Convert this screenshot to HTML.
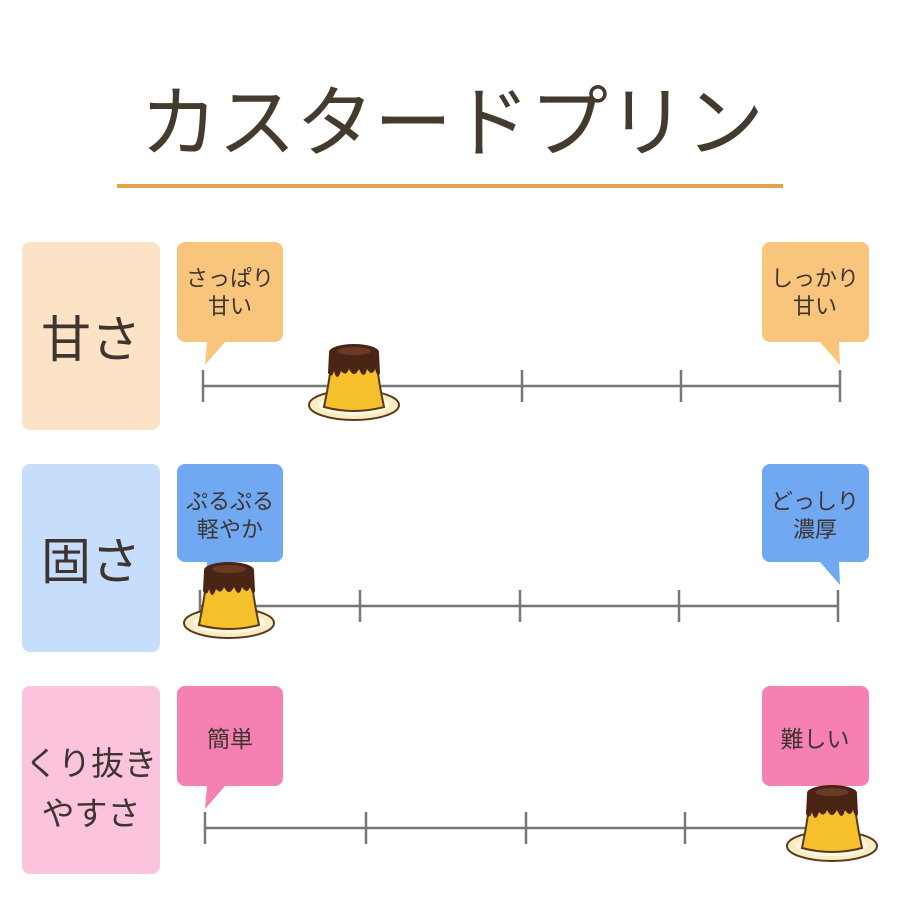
<!DOCTYPE html>
<html><head><meta charset="utf-8"><style>
html,body{margin:0;padding:0;background:#fff}
svg{display:block}
text{font-family:"Liberation Sans","Noto Sans CJK JP",sans-serif}
</style></head><body>
<svg width="900" height="900" viewBox="0 0 900 900" xmlns="http://www.w3.org/2000/svg">
<defs>
<g id="pud">
  <ellipse cx="0" cy="20" rx="45" ry="15" fill="#f7ecc2" stroke="#5a3a1a" stroke-width="2"/>
  <ellipse cx="0" cy="20" rx="36" ry="10" fill="#fff8e0"/>
  <path d="M-22,-30 C-24,-5 -28,12 -30,22 Q0,30 30,22 C28,12 24,-5 22,-30 Z" fill="#f5c02c" stroke="#5a3a1a" stroke-width="2"/>
  <path d="M-25,-32 L-26,-12 Q-22,-6 -20,-14 Q-17,-2 -13,-14 Q-8,-8 -5,-16 Q0,-6 5,-16 Q10,-4 13,-16 Q18,-8 21,-16 Q24,-6 26,-12 L25,-32 Z" fill="#4a2414"/>
  <ellipse cx="0" cy="-33" rx="25" ry="8" fill="#4a2414"/>
  <ellipse cx="0" cy="-34" rx="17" ry="4" fill="#6b3a24"/>
</g>
</defs>

<text x="452" y="150" font-size="78" font-weight="400" fill="#453a2e" text-anchor="middle" style="font-family:'Noto Sans CJK JP',sans-serif">カスタードプリン</text>
<rect x="117" y="184" width="666" height="4" fill="#e2a445"/>

<!-- Row 1 -->
<rect x="22" y="242" width="138" height="188" rx="8" fill="#fde3c6"/>
<text x="91" y="357" font-size="50" fill="#3d3530" text-anchor="middle">甘さ</text>
<path d="M185,242 h90 a8,8 0 0 1 8,8 v84 a8,8 0 0 1 -8,8 h-50 l-20,23 l2,-23 h-22 a8,8 0 0 1 -8,-8 v-84 a8,8 0 0 1 8,-8z" fill="#f9c57c"/>
<text x="230" y="286" font-size="22" fill="#3d3530" text-anchor="middle">さっぱり</text>
<text x="230" y="314" font-size="22" fill="#3d3530" text-anchor="middle">甘い</text>
<path d="M770,242 h91 a8,8 0 0 1 8,8 v84 a8,8 0 0 1 -8,8 h-22 l1,23 l-20,-23 h-50 a8,8 0 0 1 -8,-8 v-84 a8,8 0 0 1 8,-8z" fill="#f9c57c"/>
<text x="815" y="286" font-size="22" fill="#3d3530" text-anchor="middle">しっかり</text>
<text x="815" y="314" font-size="22" fill="#3d3530" text-anchor="middle">甘い</text>
<g stroke="#777" stroke-width="2.5">
<line x1="203" y1="386" x2="840" y2="386"/>
<line x1="203" y1="370" x2="203" y2="402"/><line x1="362" y1="370" x2="362" y2="402"/><line x1="522" y1="370" x2="522" y2="402"/><line x1="681" y1="370" x2="681" y2="402"/><line x1="840" y1="370" x2="840" y2="402"/>
</g>
<use href="#pud" x="354" y="385"/>

<!-- Row 2 -->
<rect x="22" y="464" width="138" height="188" rx="8" fill="#c7ddfc"/>
<text x="91" y="579" font-size="50" fill="#3d3530" text-anchor="middle">固さ</text>
<path d="M185,464 h90 a8,8 0 0 1 8,8 v82 a8,8 0 0 1 -8,8 h-50 l-20,23 l2,-23 h-22 a8,8 0 0 1 -8,-8 v-82 a8,8 0 0 1 8,-8z" fill="#70a8f2"/>
<text x="230" y="509" font-size="22" fill="#3d3530" text-anchor="middle">ぷるぷる</text>
<text x="230" y="537" font-size="22" fill="#3d3530" text-anchor="middle">軽やか</text>
<path d="M770,464 h91 a8,8 0 0 1 8,8 v82 a8,8 0 0 1 -8,8 h-22 l1,23 l-20,-23 h-50 a8,8 0 0 1 -8,-8 v-82 a8,8 0 0 1 8,-8z" fill="#70a8f2"/>
<text x="815" y="509" font-size="22" fill="#3d3530" text-anchor="middle">どっしり</text>
<text x="815" y="537" font-size="22" fill="#3d3530" text-anchor="middle">濃厚</text>
<g stroke="#777" stroke-width="2.5">
<line x1="200" y1="606" x2="838" y2="606"/>
<line x1="200" y1="590" x2="200" y2="622"/><line x1="360" y1="590" x2="360" y2="622"/><line x1="520" y1="590" x2="520" y2="622"/><line x1="679" y1="590" x2="679" y2="622"/><line x1="838" y1="590" x2="838" y2="622"/>
</g>
<use href="#pud" x="229" y="603"/>

<!-- Row 3 -->
<rect x="22" y="686" width="138" height="188" rx="8" fill="#fbc3dc"/>
<text x="91" y="775" font-size="33" fill="#3d3530" text-anchor="middle">くり抜き</text>
<text x="91" y="825" font-size="33" fill="#3d3530" text-anchor="middle">やすさ</text>
<path d="M185,686 h90 a8,8 0 0 1 8,8 v84 a8,8 0 0 1 -8,8 h-50 l-20,23 l2,-23 h-22 a8,8 0 0 1 -8,-8 v-84 a8,8 0 0 1 8,-8z" fill="#f680b2"/>
<text x="230" y="747" font-size="23" fill="#3d3530" text-anchor="middle">簡単</text>
<rect x="762" y="686" width="107" height="100" rx="8" fill="#f680b2"/>
<text x="815" y="747" font-size="23" fill="#3d3530" text-anchor="middle">難しい</text>
<g stroke="#777" stroke-width="2.5">
<line x1="205" y1="828" x2="844" y2="828"/>
<line x1="205" y1="812" x2="205" y2="844"/><line x1="366" y1="812" x2="366" y2="844"/><line x1="526" y1="812" x2="526" y2="844"/><line x1="685" y1="812" x2="685" y2="844"/><line x1="844" y1="812" x2="844" y2="844"/>
</g>
<use href="#pud" x="832" y="826"/>
</svg>
</body></html>
